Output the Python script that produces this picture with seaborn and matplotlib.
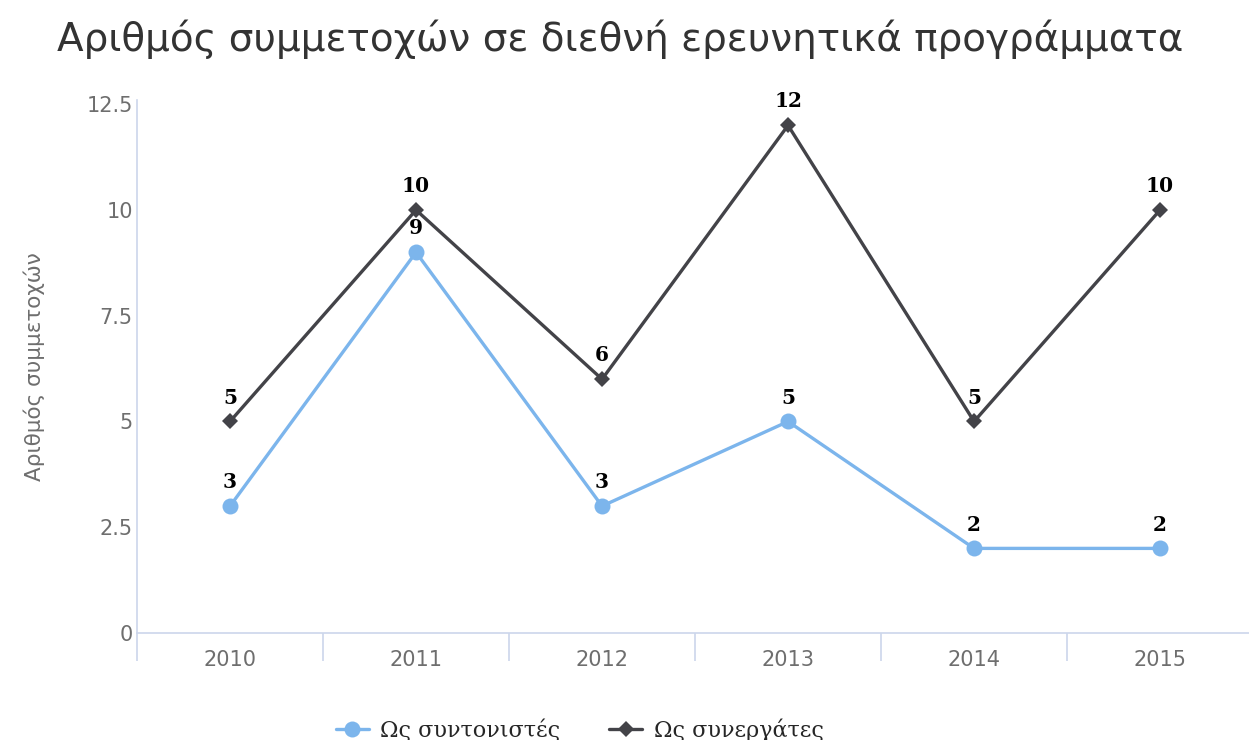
import pandas as pd
import seaborn as sns
import matplotlib.pyplot as plt
from matplotlib.ticker import FixedLocator

years = ['2010', '2011', '2012', '2013', '2014', '2015']
coordinators = [3, 9, 3, 5, 2, 2]
partners = [5, 10, 6, 12, 5, 10]
series_names = ['Ως συντονιστές', 'Ως συνεργάτες']
y_ticks = [0, 2.5, 5, 7.5, 10, 12.5]
y_tick_labels = ['0', '2.5', '5', '7.5', '10', '12.5']

sns.set_style('white')
plt.rcParams['font.family'] = ['DejaVu Sans']

blue = '#7cb5ec'
dark = '#434348'
axis_col = '#ccd6eb'

df = pd.DataFrame({'pos': range(len(years)), 'c': coordinators, 'p': partners})

fig = plt.figure(figsize=(12.49, 7.40), dpi=100)
ax = fig.add_axes([137 / 1249, 107 / 740, 1112 / 1249, 533 / 740])

sns.lineplot(data=df, x='pos', y='c', ax=ax, color=blue, lw=2.4, marker='o',
             markersize=11.5, markeredgewidth=0, label=series_names[0])
sns.lineplot(data=df, x='pos', y='p', ax=ax, color=dark, lw=2.4, marker='D',
             markersize=8, markeredgewidth=0, label=series_names[1])

for vals in (coordinators, partners):
    for i, v in enumerate(vals):
        ax.annotate(str(v), (i, v), xytext=(0, 10), textcoords='offset points',
                    ha='center', va='bottom', fontsize=14.5, fontweight='bold',
                    family='DejaVu Serif', color='black')

ax.set_xlim(-0.5, 5.478)
ax.set_ylim(0, 12.6)
ax.set_xticks(range(len(years)))
ax.set_xticklabels(years)
ax.xaxis.set_minor_locator(FixedLocator([x - 0.5 for x in range(len(years) + 1)]))
ax.tick_params(axis='x', which='major', length=0, pad=12, labelsize=15, labelcolor='#6e6e6e')
ax.tick_params(axis='x', which='minor', bottom=True, length=20, width=1.2,
               color=axis_col, direction='out')
ax.set_yticks(y_ticks)
ax.set_yticklabels(y_tick_labels)
ax.tick_params(axis='y', length=0, pad=3, labelsize=15, labelcolor='#6e6e6e')
ax.set_xlabel('')
ax.set_ylabel('Αριθμός συμμετοχών', fontsize=15.5, color='#6e6e6e', labelpad=30)

for s in ['top', 'right']:
    ax.spines[s].set_visible(False)
ax.spines['left'].set_color(axis_col)
ax.spines['bottom'].set_color(axis_col)
ax.spines['left'].set_linewidth(1.2)
ax.spines['bottom'].set_linewidth(1.2)

fig.text(57 / 1249, 1 - 51 / 740, 'Αριθμός συμμετοχών σε διεθνή ερευνητικά προγράμματα',
         fontsize=28, color='#333333', ha='left', va='baseline')

ax.legend(loc='center', bbox_to_anchor=(0.398, -0.182), ncol=2,
          frameon=False, handlelength=1.5, columnspacing=2.2, handletextpad=0.5,
          prop={'family': 'DejaVu Serif', 'size': 16})

fig.savefig('out.png', dpi=100)
